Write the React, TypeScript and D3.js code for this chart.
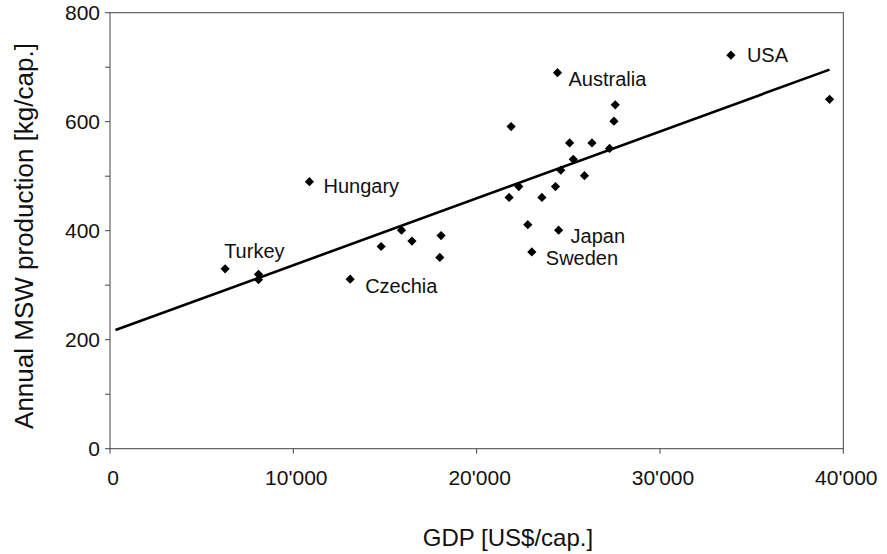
import React from "react";
import * as d3 from "d3";

const gdp = [6280, 8100, 8100, 10880, 13100, 14790, 15900, 16470, 17990, 18060, 21770, 21880, 22300, 22790, 23010, 23560, 24300, 24410, 24470, 24590, 25070, 25270, 25880, 26290, 27250, 27490, 27560, 33870, 39250];
const msw = [330, 320, 310, 490, 311, 371, 401, 381, 351, 391, 461, 591, 481, 411, 361, 461, 481, 690, 401, 511, 561, 531, 501, 561, 551, 601, 631, 722, 641];
const names = ["Turkey", "", "", "Hungary", "Czechia", "", "", "", "", "", "", "", "", "", "Sweden", "", "", "Australia", "Japan", "", "", "", "", "", "", "", "", "USA", ""];

const trendIntercept = 214;
const trendSlope = 0.01227;
const trendRange = [300, 39250];

const xTicks = [0, 10000, 20000, 30000, 40000];
const yTicks = [0, 100, 200, 300, 400, 500, 600, 700, 800];
const yLabels = [0, 200, 400, 600, 800];

const xTitle = "GDP [US$/cap.]";
const yTitle = "Annual MSW production [kg/cap.]";

// label placement offsets (style, not data)
const labelOffset: Record<string, [number, number]> = {
  Turkey: [-1, -11],
  Hungary: [14, 11],
  Czechia: [15, 14],
  Sweden: [14, 13],
  Australia: [11, 13],
  Japan: [12, 13],
  USA: [16, 7],
};

const FONT = "'Liberation Sans', Arial, sans-serif";

export default function App() {
  const W = 887, H = 554;
  const x = d3.scaleLinear().domain([0, 40000]).range([110, 843.3]);
  const y = d3.scaleLinear().domain([0, 800]).range([448.7, 12.7]);
  const fmt = (v: number) => d3.format(",")(v).replace(/,/g, "'");
  const line = d3.line<number>().x((v) => x(v)).y((v) => y(trendIntercept + trendSlope * v));
  const r = 4.6;
  const diamond = `M0,${-r}L${r},0L0,${r}L${-r},0Z`;

  return (
    <svg width={W} height={H} style={{ position: "absolute", left: 0, top: 0, background: "#fff" }} fontFamily={FONT}>
      <rect x={x(0)} y={y(800)} width={x(40000) - x(0)} height={y(0) - y(800)} fill="#fff" stroke="#444" strokeWidth={1} />
      {yTicks.map((t) => (
        <line key={"yt" + t} x1={x(0) - 5} x2={x(0)} y1={y(t)} y2={y(t)} stroke="#444" strokeWidth={1} />
      ))}
      {yLabels.map((t) => (
        <text key={"yl" + t} x={x(0) - 10} y={y(t)} dy="0.36em" textAnchor="end" fontSize={21} fill="#111">
          {t}
        </text>
      ))}
      {xTicks.map((t) => (
        <g key={"xt" + t}>
          <line x1={x(t)} x2={x(t)} y1={y(0)} y2={y(0) + 5} stroke="#444" strokeWidth={1} />
          <text x={x(t) + 3} y={485} textAnchor="middle" fontSize={21} fill="#111">
            {fmt(t)}
          </text>
        </g>
      ))}
      <path d={line(trendRange) || ""} fill="none" stroke="#000" strokeWidth={2.6} />
      {gdp.map((g, i) => (
        <path key={"p" + i} d={diamond} transform={`translate(${x(g)},${y(msw[i])})`} fill="#000" />
      ))}
      {names.map((n, i) =>
        n ? (
          <text key={"n" + i} x={x(gdp[i]) + labelOffset[n][0]} y={y(msw[i]) + labelOffset[n][1]} fontSize={20} fill="#111">
            {n}
          </text>
        ) : null
      )}
      <text x={508} y={546} textAnchor="middle" fontSize={24} fill="#111">
        {xTitle}
      </text>
      <text transform={`translate(33,236) rotate(-90)`} textAnchor="middle" fontSize={26} fill="#111">
        {yTitle}
      </text>
    </svg>
  );
}
